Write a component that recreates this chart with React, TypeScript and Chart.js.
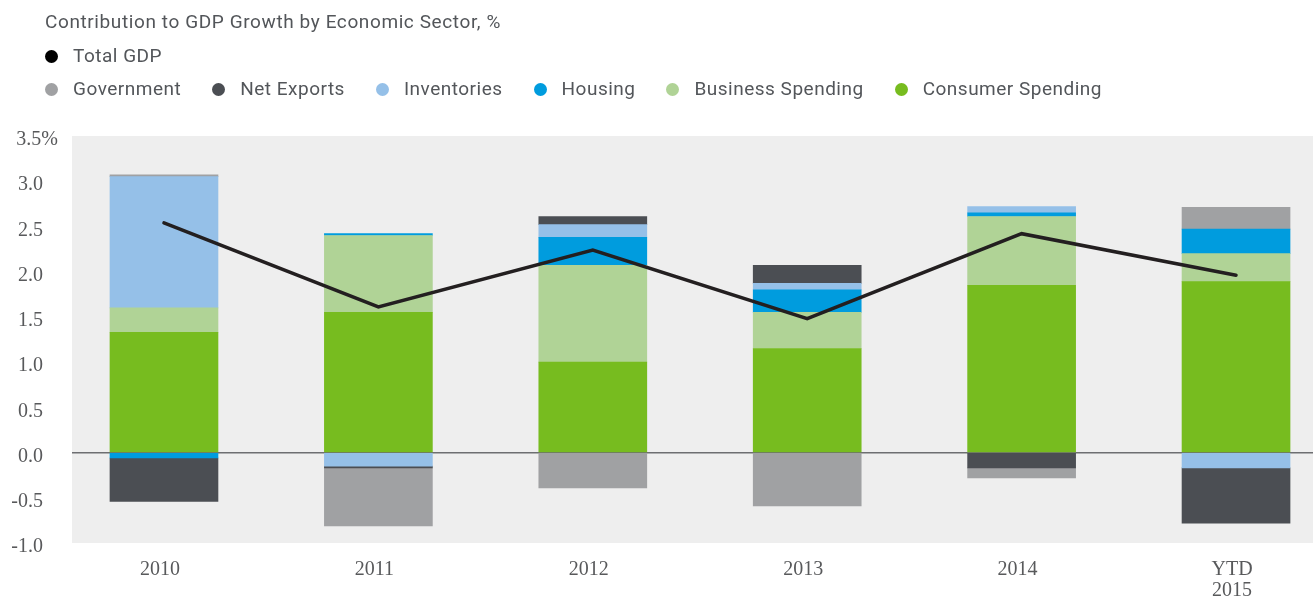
import React, { useEffect, useRef } from 'react';
import { Chart, registerables } from 'chart.js';

Chart.register(...registerables);

// ---------- data ----------
const categories: (string | string[])[] = ['2010', '2011', '2012', '2013', '2014', ['YTD', '2015']];
const consumerSpending = [1.33, 1.55, 1.0, 1.15, 1.85, 1.89];
const businessSpending = [0.27, 0.85, 1.07, 0.4, 0.76, 0.31];
const housing = [-0.06, 0.02, 0.31, 0.25, 0.04, 0.27];
const inventories = [1.45, -0.15, 0.14, 0.07, 0.07, -0.17];
const netExports = [-0.48, -0.02, 0.09, 0.2, -0.17, -0.61];
const government = [0.02, -0.64, -0.39, -0.59, -0.11, 0.24];
const totalGdp = [2.54, 1.61, 2.24, 1.48, 2.42, 1.96];

const yMin = -1.0;
const yMax = 3.5;
const yStep = 0.5;

const titleText = 'Contribution to GDP Growth by Economic Sector, %';
const totalLabel = 'Total GDP';

const COLORS = {
  consumer: '#77bc1f',
  business: '#b0d396',
  housing: '#009cde',
  inventories: '#95c0e8',
  netExports: '#4b4e53',
  government: '#a0a1a3',
  total: '#231f20',
};

const legendItems = [
  { label: 'Government', color: COLORS.government },
  { label: 'Net Exports', color: COLORS.netExports },
  { label: 'Inventories', color: COLORS.inventories },
  { label: 'Housing', color: COLORS.housing },
  { label: 'Business Spending', color: COLORS.business },
  { label: 'Consumer Spending', color: COLORS.consumer },
];

const W = 1313;
const H = 597;

const toPoints = (arr: number[]) => arr.map((y, i) => ({ x: i, y }));

const plotBg = {
  id: 'plotBg',
  beforeDraw(chart: any) {
    const { ctx, chartArea } = chart;
    ctx.save();
    ctx.fillStyle = '#eeeeee';
    ctx.fillRect(chartArea.left, chartArea.top, chartArea.right - chartArea.left, chartArea.bottom - chartArea.top);
    ctx.restore();
  },
};

export default function App() {
  const canvasRef = useRef<HTMLCanvasElement | null>(null);

  useEffect(() => {
    document.body.style.margin = '0';
    document.body.style.overflow = 'hidden';
    const canvas = canvasRef.current;
    if (!canvas) return;

    const barDefaults = {
      type: 'bar' as const,
      stack: 'sectors',
      barThickness: 108,
      borderWidth: 0,
      order: 1,
    };

    const chart = new Chart(canvas, {
      type: 'bar',
      data: {
        datasets: [
          {
            type: 'line',
            label: totalLabel,
            data: toPoints(totalGdp),
            borderColor: COLORS.total,
            borderWidth: 3.5,
            pointRadius: 0,
            tension: 0,
            fill: false,
            borderCapStyle: 'round',
            borderJoinStyle: 'miter',
            stack: 'gdp',
            order: 0,
          } as any,
          { ...barDefaults, label: 'Consumer Spending', data: toPoints(consumerSpending), backgroundColor: COLORS.consumer },
          { ...barDefaults, label: 'Business Spending', data: toPoints(businessSpending), backgroundColor: COLORS.business },
          { ...barDefaults, label: 'Housing', data: toPoints(housing), backgroundColor: COLORS.housing },
          { ...barDefaults, label: 'Inventories', data: toPoints(inventories), backgroundColor: COLORS.inventories },
          { ...barDefaults, label: 'Net Exports', data: toPoints(netExports), backgroundColor: COLORS.netExports },
          { ...barDefaults, label: 'Government', data: toPoints(government), backgroundColor: COLORS.government },
        ],
      },
      options: {
        responsive: false,
        animation: false,
        devicePixelRatio: 1,
        layout: { padding: { top: 136, right: 0, left: 0, bottom: 0 } },
        plugins: {
          legend: { display: false },
          tooltip: { enabled: false },
          title: { display: false },
        },
        scales: {
          x: {
            type: 'linear',
            offset: false,
            bounds: 'data',
            min: -0.429,
            max: 5.359,
            grid: { display: false, drawTicks: false, offset: false },
            border: { display: false },
            afterBuildTicks: (scale: any) => {
              scale.ticks = categories.map((_, i) => ({ value: i }));
            },
            afterFit: (scale: any) => {
              scale.height = 54;
            },
            ticks: {
              autoSkip: false,
              maxRotation: 0,
              padding: 16,
              labelOffset: -4,
              color: '#58595b',
              font: { family: '"Liberation Serif", serif', size: 20, lineHeight: 1.05 },
              callback: (_v: any, i: number) => categories[i] as any,
            },
          },
          y: {
            type: 'linear',
            stacked: true,
            min: yMin,
            max: yMax,
            z: 1,
            grid: {
              drawTicks: false,
              color: (ctx: any) => (ctx.tick && ctx.tick.value === 0 ? '#6d6e71' : 'rgba(0,0,0,0)'),
              lineWidth: 1.5,
            },
            border: { display: false },
            afterFit: (scale: any) => {
              scale.width = 72;
            },
            ticks: {
              stepSize: yStep,
              padding: 14,
              labelOffset: 4,
              color: '#58595b',
              font: { family: '"Liberation Serif", serif', size: 20 },
              callback: (v: any) => {
                const n = Number(v);
                return n === yMax ? n.toFixed(1) + '%' : n.toFixed(1) + '\u2002\u2005';
              },
            },
          },
        },
      } as any,
      plugins: [plotBg],
    });

    return () => chart.destroy();
  }, []);

  const textStyle: React.CSSProperties = {
    fontFamily: 'Roboto, "Noto Sans", sans-serif',
    fontSize: 19,
    color: '#53565a',
    lineHeight: '24px',
    whiteSpace: 'nowrap',
    letterSpacing: '0.5px',
  };

  const dot = (color: string): React.CSSProperties => ({
    display: 'inline-block',
    width: 13,
    height: 13,
    borderRadius: '50%',
    background: color,
    marginRight: 15,
    flex: '0 0 auto',
  });

  return (
    <div style={{ position: 'relative', width: W, height: H, overflow: 'hidden', background: '#fff' }}>
      <canvas ref={canvasRef} width={W} height={H} style={{ position: 'absolute', left: 0, top: 0, display: 'block' }} />
      <div style={{ ...textStyle, position: 'absolute', left: 45, top: 10, letterSpacing: '0.6px' }}>{titleText}</div>
      <div style={{ ...textStyle, position: 'absolute', left: 45, top: 44, display: 'flex', alignItems: 'center' }}>
        <span style={dot('#000000')} />
        <span>{totalLabel}</span>
      </div>
      <div style={{ ...textStyle, position: 'absolute', left: 45, top: 77, display: 'flex', alignItems: 'center' }}>
        {legendItems.map((it) => (
          <div key={it.label} style={{ display: 'flex', alignItems: 'center', marginRight: 31 }}>
            <span style={dot(it.color)} />
            <span>{it.label}</span>
          </div>
        ))}
      </div>
    </div>
  );
}
